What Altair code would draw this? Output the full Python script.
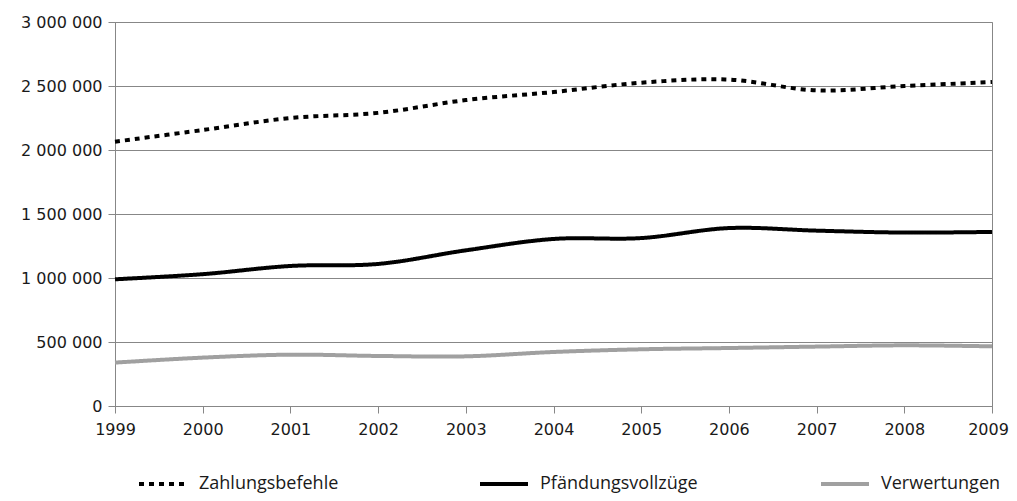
import altair as alt
import pandas as pd

years = [1999, 2000, 2001, 2002, 2003, 2004, 2005, 2006, 2007, 2008, 2009]
series_names = ["Zahlungsbefehle", "Pfändungsvollzüge", "Verwertungen"]
zahlungsbefehle = [2065000, 2156000, 2250000, 2290000, 2390000, 2453000, 2526000, 2550000, 2466000, 2500000, 2531000]
pfaendungsvollzuege = [990000, 1030000, 1094000, 1110000, 1216000, 1305000, 1312000, 1390000, 1370000, 1355000, 1360000]
verwertungen = [339000, 378000, 401000, 391000, 388000, 422000, 443000, 453000, 464000, 474000, 466000]
y_ticks = [0, 500000, 1000000, 1500000, 2000000, 2500000, 3000000]

rows = []
for name, vals in zip(series_names, [zahlungsbefehle, pfaendungsvollzuege, verwertungen]):
    for yr, v in zip(years, vals):
        rows.append({"Jahr": yr, "Wert": v, "Serie": name})
df = pd.DataFrame(rows)

GRID = "#878787"
TEXT = "#1a1a1a"

chart = alt.Chart(df).mark_line(
    interpolate="catmull-rom", strokeWidth=4, strokeCap="butt", strokeJoin="round"
).encode(
    x=alt.X("Jahr:Q",
            scale=alt.Scale(domain=[1999, 2009], nice=False, zero=False),
            axis=alt.Axis(values=years, format="d", title=None, grid=False,
                          tickSize=7, labelPadding=8, labelFontSize=16,
                          labelFont="DejaVu Sans", labelColor=TEXT,
                          domainColor=GRID, tickColor=GRID, labelFlush=False,
                          labelOffset={"condition": {"test": "datum.value === 2009", "value": -4},
                                       "value": 0})),
    y=alt.Y("Wert:Q",
            scale=alt.Scale(domain=[0, 3000000], nice=False),
            axis=alt.Axis(values=y_ticks, title=None, grid=True, gridColor=GRID,
                          gridWidth=1, tickSize=7, labelPadding=6, labelFontSize=16,
                          labelFont="DejaVu Sans", labelColor=TEXT,
                          domainColor=GRID, tickColor=GRID,
                          labelExpr="replace(replace(format(datum.value, ','), ',', ' '), ',', ' ')")),
    color=alt.Color("Serie:N",
                    scale=alt.Scale(domain=series_names, range=["#000000", "#000000", "#a0a0a0"]),
                    legend=alt.Legend(title=None, orient="none", direction="horizontal",
                                      legendX=22, legendY=436, columns=3,
                                      gridAlign="all", columnPadding=115,
                                      symbolType="stroke",
                                      symbolSize=2304, symbolStrokeWidth=4,
                                      labelOffset=10, labelFontSize=18,
                                      labelFont="Open Sans", labelColor=TEXT,
                                      padding=0, labelLimit=300)),
    strokeDash=alt.StrokeDash("Serie:N",
                              scale=alt.Scale(domain=series_names, range=[[5, 5], [1, 0], [1, 0]]),
                              legend=alt.Legend(title=None)),
).properties(
    width=877, height=384,
    autosize=alt.AutoSizeParams(type="none"),
    padding={"left": 107, "top": 14, "right": 17, "bottom": 87},
).configure_view(
    stroke=GRID, strokeWidth=1
)

chart.save("out.html", embed_options={"renderer": "svg", "actions": False})
